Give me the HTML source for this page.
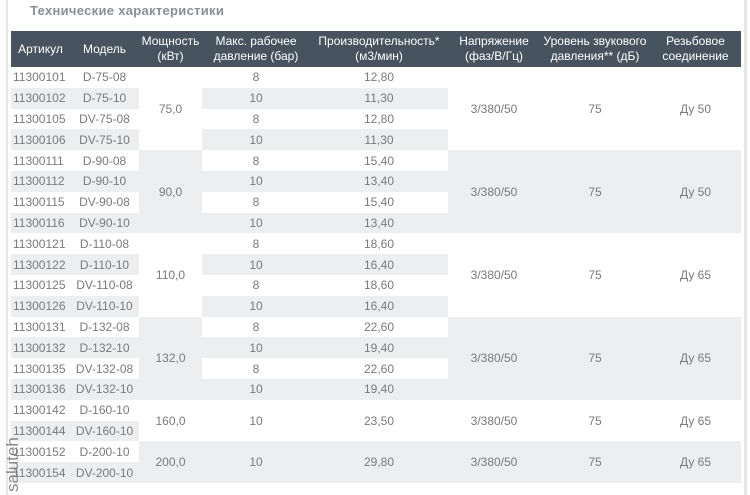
<!DOCTYPE html>
<html><head><meta charset="utf-8"><style>
body{margin:0;width:750px;height:495px;background:#fff;font-family:"Liberation Sans","DejaVu Sans",sans-serif;position:relative;overflow:hidden}
.lb{position:absolute;left:6px;top:0;width:2px;height:495px;background:#e4e6e8}
.rb{position:absolute;left:744px;top:0;width:3px;height:495px;background:#e4e6e8}
h1{position:absolute;left:30px;top:3px;margin:0;font-size:13px;font-weight:bold;color:#8a8f95;letter-spacing:0.3px}
table{position:absolute;left:11px;top:31px;width:730px;border-collapse:collapse;table-layout:fixed}
th{background:#47535f;color:#fff;font-weight:normal;font-size:12px;line-height:15px;height:36px;padding:0;text-align:center}
td{font-size:12px;color:#7a7a7a;height:20.8px;padding:0;text-align:center;background:#fff}
td.l{text-align:left;padding-left:2px}
.g{background:#eceef0}
.wm{position:absolute;left:3px;top:492px;transform:rotate(-90deg);transform-origin:left top;font-size:17px;color:#888}
</style></head><body>
<div class="lb"></div><div class="rb"></div>
<h1>Технические характеристики</h1>
<table>
<colgroup><col style="width:59px"><col style="width:69px"><col style="width:63px"><col style="width:108px"><col style="width:138px"><col style="width:92px"><col style="width:110px"><col style="width:91px"></colgroup>
<tr><th>Артикул</th><th>Модель</th><th>Мощность<br>(кВт)</th><th>Макс. рабочее<br>давление (бар)</th><th>Производительность*<br>(м3/мин)</th><th>Напряжение<br>(фаз/В/Гц)</th><th>Уровень звукового<br>давления** (дБ)</th><th>Резьбовое<br>соединение</th></tr>
<tr><td class="l">11300101</td><td>D-75-08</td><td rowspan="4">75,0</td><td>8</td><td>12,80</td><td rowspan="4">3/380/50</td><td rowspan="4">75</td><td rowspan="4">Ду 50</td></tr>
<tr><td class="l g">11300102</td><td class="g">D-75-10</td><td class="g">10</td><td class="g">11,30</td></tr>
<tr><td class="l">11300105</td><td>DV-75-08</td><td>8</td><td>12,80</td></tr>
<tr><td class="l g">11300106</td><td class="g">DV-75-10</td><td class="g">10</td><td class="g">11,30</td></tr>
<tr><td class="l">11300111</td><td>D-90-08</td><td rowspan="4" class="g">90,0</td><td>8</td><td>15,40</td><td rowspan="4" class="g">3/380/50</td><td rowspan="4" class="g">75</td><td rowspan="4" class="g">Ду 50</td></tr>
<tr><td class="l g">11300112</td><td class="g">D-90-10</td><td class="g">10</td><td class="g">13,40</td></tr>
<tr><td class="l">11300115</td><td>DV-90-08</td><td>8</td><td>15,40</td></tr>
<tr><td class="l g">11300116</td><td class="g">DV-90-10</td><td class="g">10</td><td class="g">13,40</td></tr>
<tr><td class="l">11300121</td><td>D-110-08</td><td rowspan="4">110,0</td><td>8</td><td>18,60</td><td rowspan="4">3/380/50</td><td rowspan="4">75</td><td rowspan="4">Ду 65</td></tr>
<tr><td class="l g">11300122</td><td class="g">D-110-10</td><td class="g">10</td><td class="g">16,40</td></tr>
<tr><td class="l">11300125</td><td>DV-110-08</td><td>8</td><td>18,60</td></tr>
<tr><td class="l g">11300126</td><td class="g">DV-110-10</td><td class="g">10</td><td class="g">16,40</td></tr>
<tr><td class="l">11300131</td><td>D-132-08</td><td rowspan="4" class="g">132,0</td><td>8</td><td>22,60</td><td rowspan="4" class="g">3/380/50</td><td rowspan="4" class="g">75</td><td rowspan="4" class="g">Ду 65</td></tr>
<tr><td class="l g">11300132</td><td class="g">D-132-10</td><td class="g">10</td><td class="g">19,40</td></tr>
<tr><td class="l">11300135</td><td>DV-132-08</td><td>8</td><td>22,60</td></tr>
<tr><td class="l g">11300136</td><td class="g">DV-132-10</td><td class="g">10</td><td class="g">19,40</td></tr>
<tr><td class="l">11300142</td><td>D-160-10</td><td rowspan="2">160,0</td><td rowspan="2">10</td><td rowspan="2">23,50</td><td rowspan="2">3/380/50</td><td rowspan="2">75</td><td rowspan="2">Ду 65</td></tr>
<tr><td class="l g">11300144</td><td class="g">DV-160-10</td></tr>
<tr><td class="l">11300152</td><td>D-200-10</td><td rowspan="2" class="g">200,0</td><td rowspan="2" class="g">10</td><td rowspan="2" class="g">29,80</td><td rowspan="2" class="g">3/380/50</td><td rowspan="2" class="g">75</td><td rowspan="2" class="g">Ду 65</td></tr>
<tr><td class="l g">11300154</td><td class="g">DV-200-10</td></tr>
</table>
<div class="wm">saluteh</div>
</body></html>
